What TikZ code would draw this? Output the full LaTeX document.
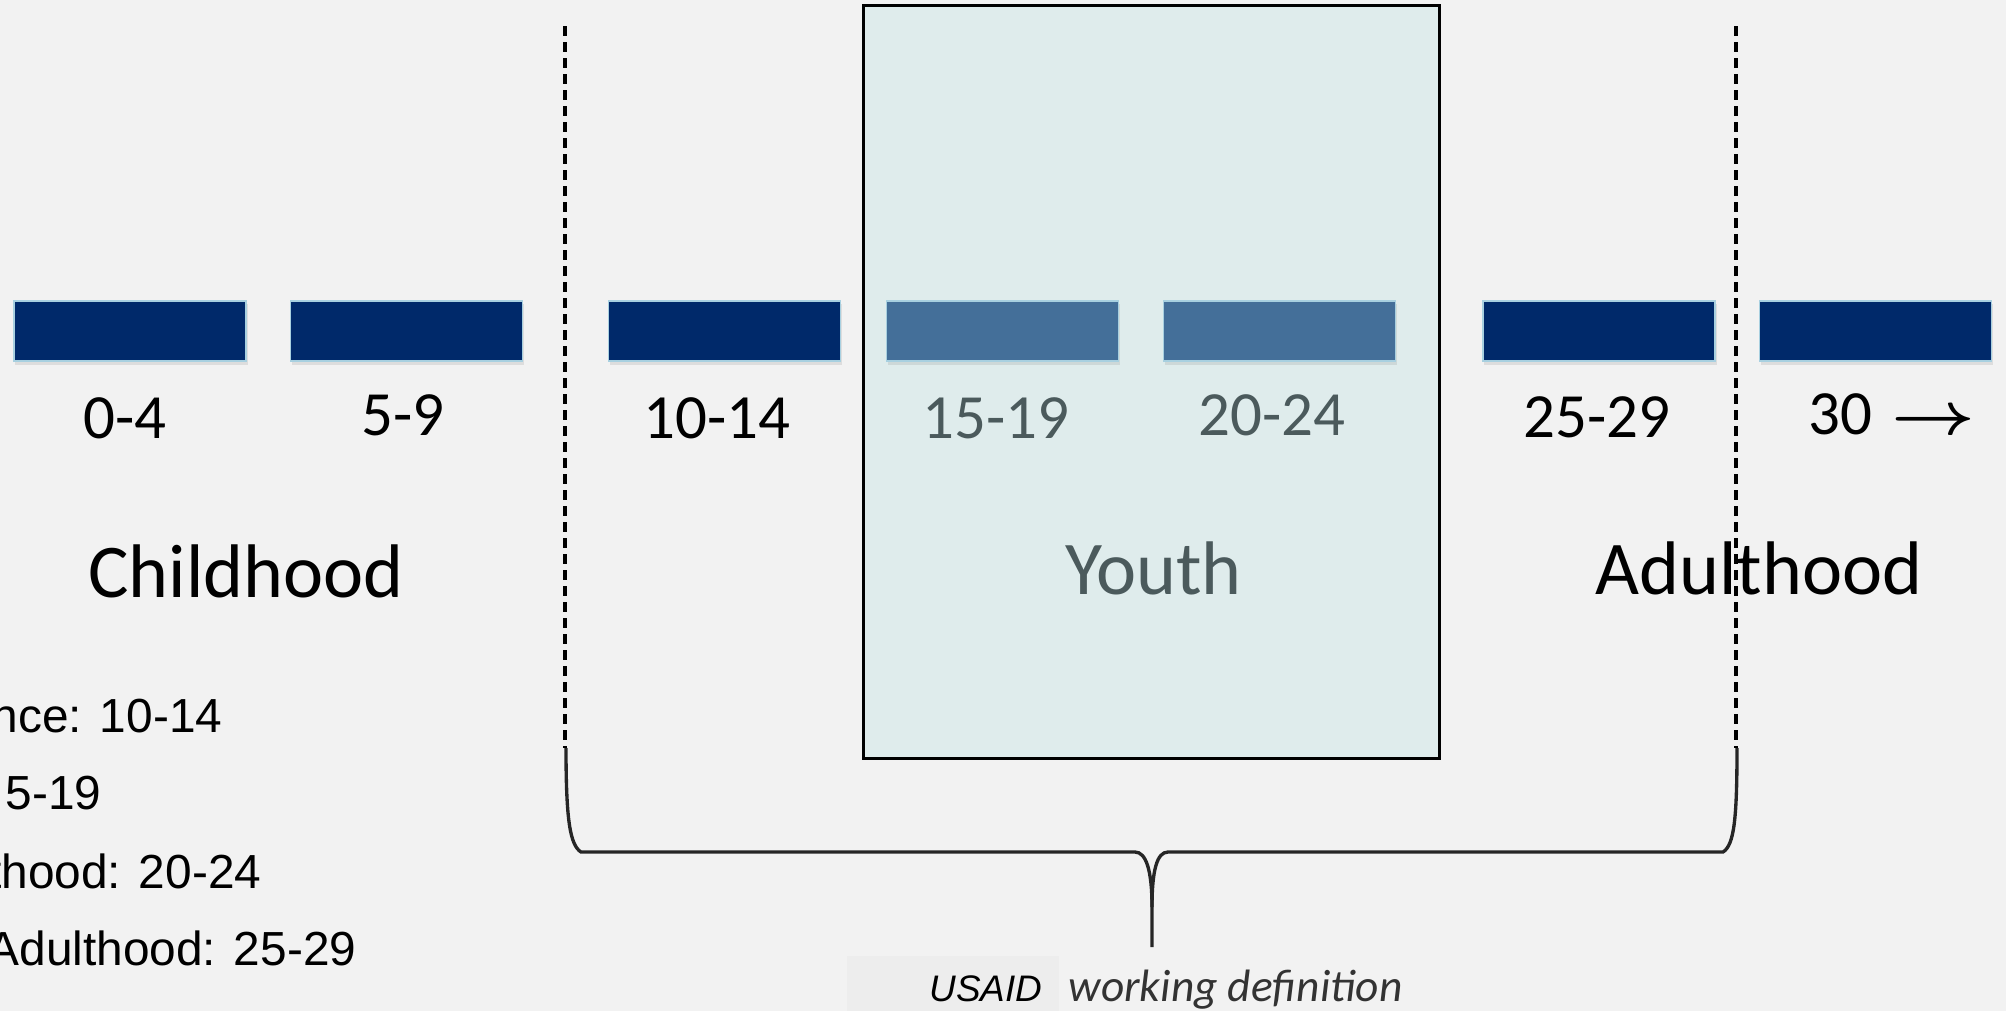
\documentclass[tikz,border=0pt]{standalone}
\usepackage{graphicx}
\usepackage{fontspec}
\setmainfont{Carlito}
\newfontfamily\arialfont{Liberation Sans}
\usetikzlibrary{shadows}
\definecolor{bgc}{HTML}{F2F2F2}
\definecolor{navy}{HTML}{00296A}
\definecolor{ybar}{HTML}{446F99}
\definecolor{ybox}{HTML}{DFECEC}
\definecolor{ytext}{HTML}{4B5A5C}
\definecolor{barline}{HTML}{A8D0E0}
\definecolor{usaidbg}{HTML}{EDEDED}
\definecolor{bracec}{HTML}{262626}
\begin{document}
\begin{tikzpicture}[x=0.01cm,y=-0.01cm,
  agebar/.style={rectangle, fill=navy, draw=barline, line width=0.4pt,
    minimum width=2.32cm, minimum height=0.6cm, inner sep=0pt,
    drop shadow={opacity=0.18, shadow xshift=0.015cm, shadow yshift=-0.035cm}},
  youthbar/.style={agebar, fill=ybar},
  numlbl/.style={anchor=base, inner sep=0pt, font=\fontsize{17.9}{20}\selectfont},
  biglbl/.style={anchor=base, inner sep=0pt, font=\fontsize{21.6}{24}\selectfont},
  listlbl/.style={anchor=base east, inner sep=0pt, font=\arialfont\fontsize{13.6}{15}\selectfont},
  divider/.style={line width=1pt, dash pattern=on 0.1cm off 0.06cm},
  bracepath/.style={draw=bracec, line width=0.95pt}]
\useasboundingbox (0,0) rectangle (2006,1011);
\clip (0,0) rectangle (2006,1011);
\fill[bgc] (0,0) rectangle (2006,1011);

% youth box
\node[draw=black, fill=ybox, line width=0.9pt, minimum width=5.75cm,
  minimum height=7.52cm, inner sep=0pt] (ybox) at (1151.5,382) {};

% bars
\node[agebar] (b1) at (130,331) {};
\node[agebar] (b2) at (406.5,331) {};
\node[agebar] (b3) at (724.5,331) {};
\node[youthbar] (b4) at (1002.5,331) {};
\node[youthbar] (b5) at (1279.5,331) {};
\node[agebar] (b6) at (1599,331) {};
\node[agebar] (b7) at (1875.5,331) {};

% age labels
\node[numlbl] (l1) at (125,438) {0-4};
\node[numlbl] (l2) at (403,435) {5-9};
\node[numlbl] (l3) at (717,438) {10-14};
\node[numlbl, text=ytext] (l4) at (996,438) {15-19};
\node[numlbl, text=ytext] (l5) at (1272,435) {20-24};
\node[numlbl] (l6) at (1597,437) {25-29};
\node[numlbl, anchor=base west] (l7) at (1808,434) {30\hspace{0.3em}\scalebox{1.2}[1]{\boldmath$\rightarrow$}};

% stage labels
\node[biglbl] (child) at (246,597) {Childhood};
\node[biglbl, text=ytext] (youth) at (1153.5,594) {Youth};
\node[biglbl] (adult) at (1759,594) {Adulthood};

% dashed dividers
\coordinate (dlt) at (565,26);
\coordinate (dlb) at (565,748);
\coordinate (drt) at (1736,26);
\coordinate (drb) at (1736,748);
\draw[divider] (dlt) -- (dlb);
\draw[divider] (drt) -- (drb);

% brace
\coordinate (brl) at (566,748);
\coordinate (brr) at (1737,748);
\coordinate (brm) at (1152,907);
\coordinate (brtip) at (1152,947);
\draw[bracepath] (brl) .. controls +(0,72) and +(-11,-7) .. ++(15,104)
  -- (1135,852) .. controls +(11,0) and +(0,-37) .. (brm) -- (brtip);
\draw[bracepath] (brr) .. controls +(0,72) and +(11,-7) .. ++(-14,104)
  -- (1168,852) .. controls +(-11,0) and +(0,-37) .. (brm);

% left list (clipped at the left edge, as in the reference)
\node[listlbl] (t1) at (223,732) {nce: 10-14};
\node[listlbl] (t2) at (102,809) {5-19};
\node[listlbl] (t3) at (262,888) {thood: 20-24};
\node[listlbl] (t4) at (357,965) {Adulthood: 25-29};

% caption
\node[fill=usaidbg, minimum width=2.12cm, minimum height=0.55cm, inner sep=0pt] (usbg) at (953,983.5) {};
\node[anchor=base east, inner sep=0pt, font=\arialfont\itshape\fontsize{10.5}{12}\selectfont] (usaid) at (1043,1001) {USAID};
\node[anchor=base west, inner sep=0pt, text={rgb,255:red,51;green,51;blue,51}, font=\itshape\fontsize{12.9}{14}\selectfont] (wdef) at (1068,1001) {working definition};
\end{tikzpicture}
\end{document}
